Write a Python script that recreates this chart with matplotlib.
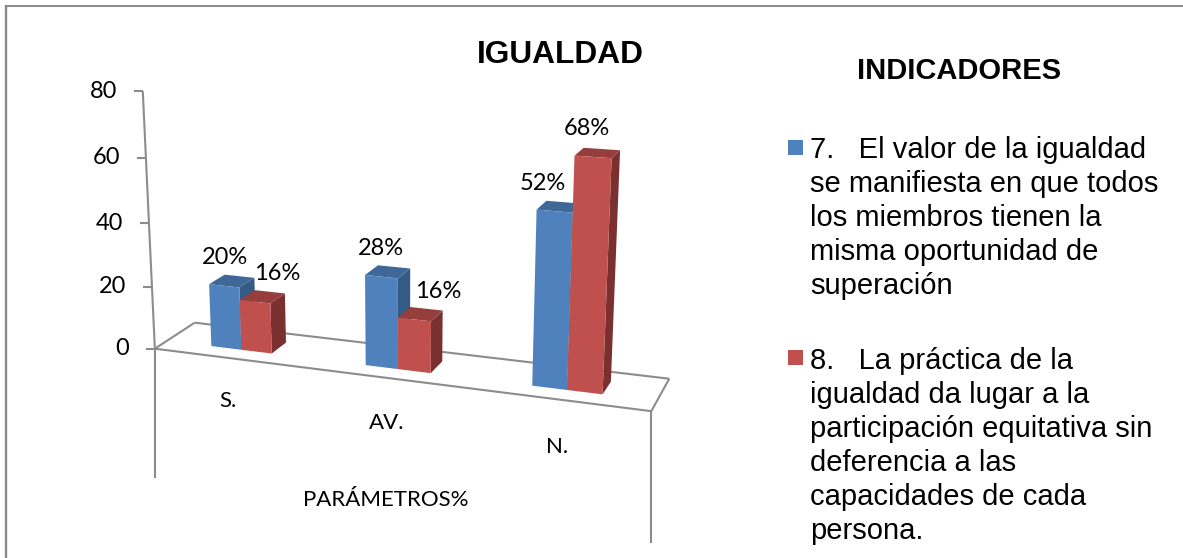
import numpy as np
import matplotlib
matplotlib.use('Agg')
import matplotlib.pyplot as plt

categories = ['S.', 'AV.', 'N.']
serie_7 = [20, 28, 52]
serie_8 = [16, 16, 68]
y_ticks = [0, 20, 40, 60, 80]
etiquetas_7 = ['20%', '28%', '52%']
etiquetas_8 = ['16%', '16%', '68%']
legend_7 = ['7.   El valor de la igualdad', 'se manifiesta en que todos', 'los miembros tienen la',
            'misma oportunidad de', 'superación']
legend_8 = ['8.   La práctica de la', 'igualdad da lugar a la', 'participación equitativa sin',
            'deferencia a las', 'capacidades de cada', 'persona.']

BAR_W = 0.2
D0, D1 = 0.3, 0.7

# calibration of the 3D view: (category pos, value, depth) -> picture pixel
calib = [
    ((0, 0, 0), (155, 348)), ((3, 0, 0), (652, 411)),
    ((0, 0, 1), (196, 323)), ((3, 0, 1), (669, 381)),
    ((0, 80, 0), (143, 90)), ((3, 80, 0), (664, 127)),
    ((0.5 - BAR_W, 0, D0), (212, 346)), ((0.5 - BAR_W, 20, D0), (209, 284)),
    ((1.5 - BAR_W, 0, D0), (365, 365)), ((1.5 - BAR_W, 28, D0), (364, 275)),
    ((2.5 - BAR_W, 0, D0), (532, 387)), ((2.5 - BAR_W, 52, D0), (537, 209)),
    ((2.5 + BAR_W, 0, D0), (603, 396)), ((2.5 + BAR_W, 68, D0), (613, 156)),
    ((2.5 + BAR_W, 0, D1), (611, 375)), ((2.5 + BAR_W, 68, D1), (620, 150)),
    ((0.5 + BAR_W, 0, D1), (285, 344)), ((0.5 + BAR_W, 16, D1), (284, 295)),
]
rows = []
rhs = []
for (x, v, d), (px, py) in calib:
    rows.append([x, v, d, 1, 0, 0, 0, 0, -px * x, -px * v, -px * d])
    rows.append([0, 0, 0, 0, x, v, d, 1, -py * x, -py * v, -py * d])
    rhs += [px, py]
sol = np.linalg.lstsq(np.array(rows, float), np.array(rhs, float), rcond=None)[0]
P = np.append(sol, 1).reshape(3, 4)


def project(x, v, d):
    u = P @ np.array([x, v, d, 1.0])
    return u[0] / u[2], u[1] / u[2]


fig = plt.figure(figsize=(11.83, 5.58), dpi=100)
ax = fig.add_axes([0, 0, 1, 1])
ax.set_xlim(0, 1183)
ax.set_ylim(558, 0)
ax.axis('off')

GREY = '#8c8c8c'


def line(a, b, color=GREY, lw=1.5):
    ax.plot([a[0], b[0]], [a[1], b[1]], color=color, lw=lw, solid_capstyle='butt', zorder=1)


# outer frame, open at the bottom and on the right
line((6, 558), (6, 4.5), '#8a8a8a', 1.7)
line((5, 5.5), (1183, 5.5), '#8a8a8a', 1.4)

# floor and axes
p00 = project(0, 0, 0)
p30 = project(3, 0, 0)
p01 = project(0, 0, 1)
p31 = project(3, 0, 1)
line(p00, p30)
line(p00, p01)
line(p01, p31)
line(p30, p31)
line(p00, project(0, 80, 0))
line(p00, (p00[0], 478))
line(p30, (p30[0], 543))
for t in y_ticks:
    px, py = project(0, t, 0)
    line((px - 9, py), (px, py))
    ax.text(px - 26, py, str(t), ha='right', va='center', fontsize=17, family='Lato', color='black')


def bar(x0, x1, val, front, top, side):
    a = project(x0, 0, D0)
    b = project(x1, 0, D0)
    c = project(x1, val, D0)
    e = project(x0, val, D0)
    a2 = project(x1, 0, D1)
    b2 = project(x1, val, D1)
    c2 = project(x0, val, D1)
    ax.fill(*zip(b, a2, b2, c), color=side, lw=0, zorder=3)
    ax.fill(*zip(e, c, b2, c2), color=top, lw=0, zorder=3)
    ax.fill(*zip(a, b, c, e), color=front, lw=0, zorder=3)


label_dx_7 = [1, 0, -12]
label_dx_8 = [22, 24, -6]
for i, cat in enumerate(categories):
    c = i + 0.5
    bar(c - BAR_W, c, serie_7[i], '#4f81bd', '#3f6797', '#365a86')
    bar(c, c + BAR_W, serie_8[i], '#c0504d', '#953e3c', '#7a302e')
    px, py = project(c - BAR_W / 2, serie_7[i], D0)
    ax.text(px + label_dx_7[i], py - 28, etiquetas_7[i], ha='center', va='center', fontsize=17, family='Lato', zorder=5)
    px, py = project(c + BAR_W / 2, serie_8[i], D0)
    ax.text(px + label_dx_8[i], py - 28, etiquetas_8[i], ha='center', va='center', fontsize=17, family='Lato', zorder=5)

# category labels hang under the floor
cat_pos = [(228, 401), (387, 423), (557, 447)]
for name, (px, py) in zip(categories, cat_pos):
    ax.text(px, py, name, ha='center', va='center', fontsize=16, family='Lato')
ax.text(386, 500, 'PARÁMETROS%', ha='center', va='center', fontsize=16, family='Lato')

ax.text(560, 55, 'IGUALDAD', ha='center', va='center', fontsize=22.8, fontweight='bold', family='Liberation Sans')
ax.text(959, 71, 'INDICADORES', ha='center', va='center', fontsize=21, fontweight='bold', family='Liberation Sans')

# legend
ax.fill([788, 803, 803, 788], [140, 140, 155, 155], color='#4f81bd', lw=0)
ax.fill([788, 803, 803, 788], [350, 350, 365, 365], color='#c0504d', lw=0)
for k, txt in enumerate(legend_7):
    ax.text(810, 147 + 34 * k, txt, ha='left', va='center_baseline', fontsize=21, family='Liberation Sans')
for k, txt in enumerate(legend_8):
    ax.text(810, 358 + 34 * k, txt, ha='left', va='center_baseline', fontsize=21, family='Liberation Sans')

fig.savefig('out.png', dpi=100)
